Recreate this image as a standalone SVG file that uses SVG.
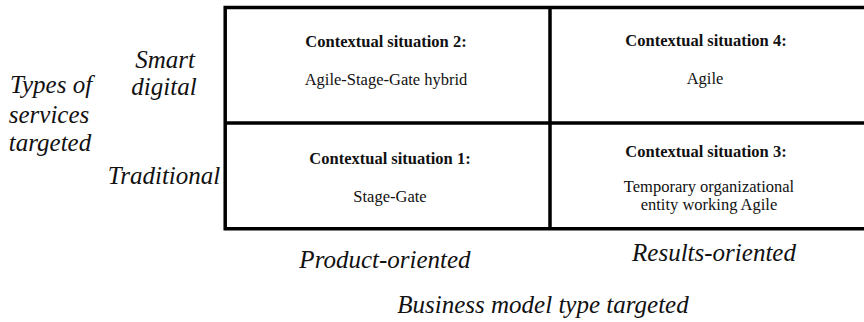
<svg xmlns="http://www.w3.org/2000/svg" width="864" height="322" viewBox="0 0 864 322">
<style>
.grid{fill:none;stroke:#000;stroke-width:3.5}
.h{font-family:'Liberation Serif','Times New Roman',Times,serif;font-weight:bold;font-size:16.5px;text-anchor:middle;fill:#111}
.b{font-family:'Liberation Serif','Times New Roman',Times,serif;font-size:16.5px;text-anchor:middle;fill:#111}
.ax{font-family:'Liberation Serif','Times New Roman',Times,serif;font-style:italic;font-size:25px;text-anchor:middle;fill:#111}
</style>
<rect width="864" height="322" fill="#fff"/>
<g id="grid">
<path class="grid" d="M223.5,7.5 H866 M223.5,123 H866 M223.5,228.7 H866 M225.2,6 V230.5 M550,6 V230.5"/>
</g>
<g id="cell2"><text class="h" x="386" y="47">Contextual situation 2:</text><text class="b" x="386" y="85">Agile-Stage-Gate hybrid</text></g>
<g id="cell4"><text class="h" x="706" y="46">Contextual situation 4:</text><text class="b" x="705" y="84">Agile</text></g>
<g id="cell1"><text class="h" x="390" y="164">Contextual situation 1:</text><text class="b" x="390" y="202">Stage-Gate</text></g>
<g id="cell3"><text class="h" x="706" y="157">Contextual situation 3:</text><text class="b" x="709" y="192">Temporary organizational</text><text class="b" x="709" y="210">entity working Agile</text></g>
<g id="yaxis"><text class="ax" x="51" y="93">Types of</text><text class="ax" x="49" y="123">services</text><text class="ax" x="50" y="151">targeted</text></g>
<g id="ylabels"><text class="ax" x="165" y="68">Smart</text><text class="ax" x="164" y="95">digital</text><text class="ax" x="164" y="184">Traditional</text></g>
<g id="xlabels"><text class="ax" x="385" y="268">Product-oriented</text><text class="ax" x="714" y="261">Results-oriented</text></g>
<g id="xaxis"><text class="ax" x="543" y="313">Business model type targeted</text></g>
</svg>
